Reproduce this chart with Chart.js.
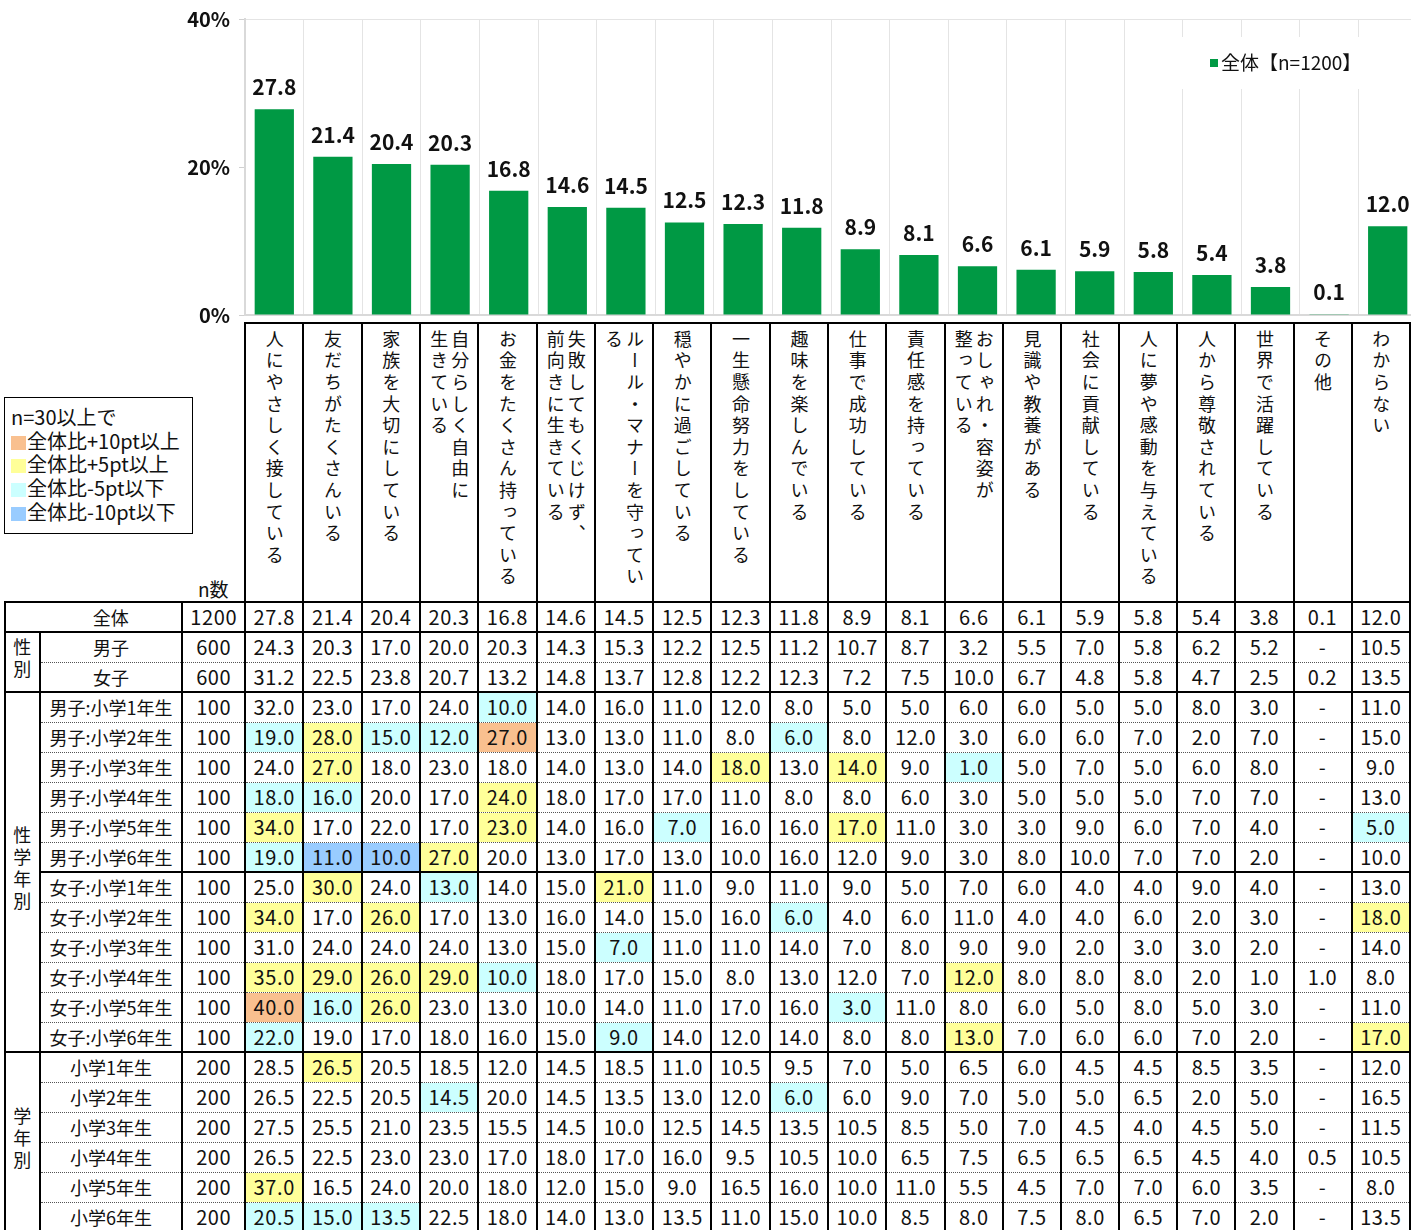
<!DOCTYPE html>
<html lang="ja">
<head>
<meta charset="utf-8">
<title>理想の大人像</title>
<script src="https://cdn.jsdelivr.net/npm/chart.js@4.4.1/dist/chart.umd.min.js"></script>
<style>
  html, body { margin: 0; padding: 0; background: #fff; overflow: hidden; }
  body { width: 1411px; height: 1230px; position: relative; font-family: "Noto Sans CJK JP", "Noto Sans", sans-serif; color: #111; }
  #chartBox { position: absolute; left: 0; top: 0; width: 1420px; height: 330px; z-index: 2; pointer-events: none; }
  #sheet { position: absolute; left: 4px; top: 322px; border-collapse: collapse; table-layout: fixed; z-index: 1; }
  #sheet td { padding: 0; white-space: nowrap; overflow: hidden; text-align: center; }
  #sheet tr.head { height: 279px; }
  #sheet tr.row { height: 30px; }
  #sheet td.blank { border: none; }
  #sheet td.nhead { vertical-align: bottom; font-size: 19px; line-height: 24px; }
  #sheet td.hd { border: 2px solid #000; vertical-align: top; padding-top: 6px; }
  .vt { display: inline-block; writing-mode: vertical-rl; text-align: left; white-space: pre; font-size: 18px; letter-spacing: 3.6px; line-height: 21px; }
  #sheet td.grp { border: 2px solid #000; vertical-align: middle; }
  .vg { display: inline-block; writing-mode: vertical-rl; font-size: 18px; letter-spacing: 4px; line-height: 20px; }
  #sheet td.lab { font-size: 18px; line-height: 28px; border-left: 2px solid #000; border-right: 2px solid #000; }
  #sheet td.num { font-size: 20px; line-height: 28px; letter-spacing: 0.6px; border-left: 2px solid #000; border-right: 2px solid #000; }
  #sheet tr.solid td { border-top: 2px solid #000; }
  #sheet tr.dot td { border-top: 1px dotted #555; }
  #key { position: absolute; left: 4px; top: 397px; width: 189px; height: 137px; box-sizing: border-box; border: 1.5px solid #000; padding: 7px 0 0 6px; font-size: 20px; line-height: 23.7px; background: #fff; z-index: 3; white-space: nowrap; }
  #key i { display: inline-block; width: 15px; height: 14px; margin-right: 1px; vertical-align: -1px; }
</style>
</head>
<body>
<div id="chartBox"><canvas id="bars" width="1420" height="330"></canvas></div>
<table id="sheet"></table>
<div id="key"></div>

<script>
// categories (header text, line breaks as in the original)
const categories = [
  '人にやさしく接している', '友だちがたくさんいる', '家族を大切にしている', '自分らしく自由に\n生きている',
  'お金をたくさん持っている', '失敗してもくじけず、\n前向きに生きている', 'ルール・マナーを守ってい\nる',
  '穏やかに過ごしている', '一生懸命努力をしている', '趣味を楽しんでいる', '仕事で成功している',
  '責任感を持っている', 'おしゃれ・容姿が\n整っている', '見識や教養がある', '社会に貢献している',
  '人に夢や感動を与えている', '人から尊敬されている', '世界で活躍している', 'その他', 'わからない'
];

// 全体 (bars)
const overall = [27.8, 21.4, 20.4, 20.3, 16.8, 14.6, 14.5, 12.5, 12.3, 11.8, 8.9, 8.1, 6.6, 6.1, 5.9, 5.8, 5.4, 3.8, 0.1, 12.0];
const yTicks = [0, 20, 40];

// table rows (null = '-')
const boys   = [24.3, 20.3, 17.0, 20.0, 20.3, 14.3, 15.3, 12.2, 12.5, 11.2, 10.7, 8.7, 3.2, 5.5, 7.0, 5.8, 6.2, 5.2, null, 10.5];
const girls  = [31.2, 22.5, 23.8, 20.7, 13.2, 14.8, 13.7, 12.8, 12.2, 12.3, 7.2, 7.5, 10.0, 6.7, 4.8, 5.8, 4.7, 2.5, 0.2, 13.5];
const boysG1 = [32.0, 23.0, 17.0, 24.0, 10.0, 14.0, 16.0, 11.0, 12.0, 8.0, 5.0, 5.0, 6.0, 6.0, 5.0, 5.0, 8.0, 3.0, null, 11.0];
const boysG2 = [19.0, 28.0, 15.0, 12.0, 27.0, 13.0, 13.0, 11.0, 8.0, 6.0, 8.0, 12.0, 3.0, 6.0, 6.0, 7.0, 2.0, 7.0, null, 15.0];
const boysG3 = [24.0, 27.0, 18.0, 23.0, 18.0, 14.0, 13.0, 14.0, 18.0, 13.0, 14.0, 9.0, 1.0, 5.0, 7.0, 5.0, 6.0, 8.0, null, 9.0];
const boysG4 = [18.0, 16.0, 20.0, 17.0, 24.0, 18.0, 17.0, 17.0, 11.0, 8.0, 8.0, 6.0, 3.0, 5.0, 5.0, 5.0, 7.0, 7.0, null, 13.0];
const boysG5 = [34.0, 17.0, 22.0, 17.0, 23.0, 14.0, 16.0, 7.0, 16.0, 16.0, 17.0, 11.0, 3.0, 3.0, 9.0, 6.0, 7.0, 4.0, null, 5.0];
const boysG6 = [19.0, 11.0, 10.0, 27.0, 20.0, 13.0, 17.0, 13.0, 10.0, 16.0, 12.0, 9.0, 3.0, 8.0, 10.0, 7.0, 7.0, 2.0, null, 10.0];
const girlsG1 = [25.0, 30.0, 24.0, 13.0, 14.0, 15.0, 21.0, 11.0, 9.0, 11.0, 9.0, 5.0, 7.0, 6.0, 4.0, 4.0, 9.0, 4.0, null, 13.0];
const girlsG2 = [34.0, 17.0, 26.0, 17.0, 13.0, 16.0, 14.0, 15.0, 16.0, 6.0, 4.0, 6.0, 11.0, 4.0, 4.0, 6.0, 2.0, 3.0, null, 18.0];
const girlsG3 = [31.0, 24.0, 24.0, 24.0, 13.0, 15.0, 7.0, 11.0, 11.0, 14.0, 7.0, 8.0, 9.0, 9.0, 2.0, 3.0, 3.0, 2.0, null, 14.0];
const girlsG4 = [35.0, 29.0, 26.0, 29.0, 10.0, 18.0, 17.0, 15.0, 8.0, 13.0, 12.0, 7.0, 12.0, 8.0, 8.0, 8.0, 2.0, 1.0, 1.0, 8.0];
const girlsG5 = [40.0, 16.0, 26.0, 23.0, 13.0, 10.0, 14.0, 11.0, 17.0, 16.0, 3.0, 11.0, 8.0, 6.0, 5.0, 8.0, 5.0, 3.0, null, 11.0];
const girlsG6 = [22.0, 19.0, 17.0, 18.0, 16.0, 15.0, 9.0, 14.0, 12.0, 14.0, 8.0, 8.0, 13.0, 7.0, 6.0, 6.0, 7.0, 2.0, null, 17.0];
const grade1 = [28.5, 26.5, 20.5, 18.5, 12.0, 14.5, 18.5, 11.0, 10.5, 9.5, 7.0, 5.0, 6.5, 6.0, 4.5, 4.5, 8.5, 3.5, null, 12.0];
const grade2 = [26.5, 22.5, 20.5, 14.5, 20.0, 14.5, 13.5, 13.0, 12.0, 6.0, 6.0, 9.0, 7.0, 5.0, 5.0, 6.5, 2.0, 5.0, null, 16.5];
const grade3 = [27.5, 25.5, 21.0, 23.5, 15.5, 14.5, 10.0, 12.5, 14.5, 13.5, 10.5, 8.5, 5.0, 7.0, 4.5, 4.0, 4.5, 5.0, null, 11.5];
const grade4 = [26.5, 22.5, 23.0, 23.0, 17.0, 18.0, 17.0, 16.0, 9.5, 10.5, 10.0, 6.5, 7.5, 6.5, 6.5, 6.5, 4.5, 4.0, 0.5, 10.5];
const grade5 = [37.0, 16.5, 24.0, 20.0, 18.0, 12.0, 15.0, 9.0, 16.5, 16.0, 10.0, 11.0, 5.5, 4.5, 7.0, 7.0, 6.0, 3.5, null, 8.0];
const grade6 = [20.5, 15.0, 13.5, 22.5, 18.0, 14.0, 13.0, 13.5, 11.0, 15.0, 10.0, 8.5, 8.0, 7.5, 8.0, 6.5, 7.0, 2.0, null, 13.5];

const rowNames = ['全体', '男子', '女子',
  '男子:小学1年生', '男子:小学2年生', '男子:小学3年生', '男子:小学4年生', '男子:小学5年生', '男子:小学6年生',
  '女子:小学1年生', '女子:小学2年生', '女子:小学3年生', '女子:小学4年生', '女子:小学5年生', '女子:小学6年生',
  '小学1年生', '小学2年生', '小学3年生', '小学4年生', '小学5年生', '小学6年生'];
const rowN = [1200, 600, 600, 100, 100, 100, 100, 100, 100, 100, 100, 100, 100, 100, 100, 200, 200, 200, 200, 200, 200];
const rowValues = [overall, boys, girls, boysG1, boysG2, boysG3, boysG4, boysG5, boysG6,
  girlsG1, girlsG2, girlsG3, girlsG4, girlsG5, girlsG6, grade1, grade2, grade3, grade4, grade5, grade6];

// side groups: name, first row, row count
const groupNames = ['性別', '性学年別', '学年別'];
const groupStart = [1, 3, 15];
const groupSpan = [2, 12, 6];
const solidRows = [0, 1, 3, 9, 15];

// highlight key
const keyLabels = ['全体比+10pt以上', '全体比+5pt以上', '全体比-5pt以下', '全体比-10pt以下'];
const keyColors = ['#F9C08F', '#FFFF99', '#CCFFFF', '#99CCFF'];

function cellColor(v, base) {
  if (v === null) return '';
  const d = Math.round((v - base) * 10) / 10;
  if (d >= 10) return keyColors[0];
  if (d >= 5) return keyColors[1];
  if (d <= -10) return keyColors[3];
  if (d <= -5) return keyColors[2];
  return '';
}

function buildTable() {
  let html = '<colgroup><col style="width:35px"><col style="width:143px"><col style="width:63px">' +
    categories.map(() => '<col style="width:58.6px">').join('') + '</colgroup>';
  html += '<tr class="head"><td class="blank"></td><td class="blank"></td><td class="blank nhead">n数</td>' +
    categories.map(c => '<td class="hd"><div class="vt">' + c + '</div></td>').join('') + '</tr>';

  rowNames.forEach((name, r) => {
    const cls = solidRows.indexOf(r) >= 0 ? 'row solid' : 'row dot';
    let tr = '<tr class="' + cls + '">';
    if (r === 0) {
      tr += '<td class="lab" colspan="2" style="border-left:2px solid #000;padding-left:34px">' + name + '</td>';
    } else {
      const g = groupStart.indexOf(r);
      if (g >= 0) {
        tr += '<td class="grp" rowspan="' + groupSpan[g] + '"><div class="vg">' + groupNames[g] + '</div></td>';
      }
      tr += '<td class="lab">' + name + '</td>';
    }
    tr += '<td class="num">' + rowN[r] + '</td>';
    rowValues[r].forEach((v, i) => {
      const bg = r === 0 ? '' : cellColor(v, overall[i]);
      tr += '<td class="num"' + (bg ? ' style="background:' + bg + '"' : '') + '>' + (v === null ? '-' : v.toFixed(1)) + '</td>';
    });
    html += tr + '</tr>';
  });
  document.getElementById('sheet').innerHTML = html;

  document.getElementById('key').innerHTML = '<div>n=30以上で</div>' +
    keyLabels.map((t, i) => '<div><i style="background:' + keyColors[i] + '"></i>' + t + '</div>').join('');
}

// value labels above bars
const valueLabels = {
  id: 'valueLabels',
  afterDatasetsDraw(chart) {
    const ctx = chart.ctx;
    const meta = chart.getDatasetMeta(0);
    ctx.save();
    ctx.font = 'bold 21px "Noto Sans CJK JP"';
    ctx.fillStyle = '#111';
    ctx.textAlign = 'center';
    ctx.textBaseline = 'middle';
    meta.data.forEach((bar, i) => {
      ctx.fillText(overall[i].toFixed(1), bar.x, bar.y - 22);
    });
    ctx.restore();
  }
};

// legend with white backing over the grid
const boxedLegend = {
  id: 'boxedLegend',
  beforeDatasetsDraw(chart) {
    const ds = chart.data.datasets[0];
    const ctx = chart.ctx;
    const right = chart.chartArea.right - 58;
    ctx.save();
    ctx.fillStyle = '#fff';
    ctx.fillRect(right - 177, 37, 180, 52);
    ctx.fillStyle = ds.backgroundColor;
    ctx.fillRect(right - 149, 59, 8, 8);
    ctx.font = '19px "Noto Sans CJK JP"';
    ctx.fillStyle = '#111';
    ctx.textBaseline = 'middle';
    ctx.fillText(ds.label, right - 138, 63);
    ctx.restore();
  }
};

function drawChart() {
  new Chart(document.getElementById('bars'), {
    type: 'bar',
    data: {
      labels: categories,
      datasets: [{
        label: '全体【n=1200】',
        data: overall,
        backgroundColor: '#009944',
        barPercentage: 0.67,
        categoryPercentage: 1
      }]
    },
    options: {
      responsive: false,
      animation: false,
      layout: { padding: { top: 19, right: 3, bottom: 15, left: 0 } },
      plugins: { legend: { display: false }, tooltip: { enabled: false } },
      scales: {
        x: {
          grid: { color: '#e4e4e4', drawTicks: false, offset: true },
          border: { color: '#d9d9d9', width: 2 },
          ticks: { display: false },
          afterFit(scale) { scale.height = 0; }
        },
        y: {
          min: 0,
          max: 40,
          afterBuildTicks(scale) { scale.ticks = yTicks.map(v => ({ value: v })); },
          ticks: {
            callback: v => v + '%',
            color: '#111',
            padding: 9,
            font: { family: '"Noto Sans CJK JP"', size: 20, weight: 'bold' }
          },
          grid: {
            color: c => (c.tick && c.tick.value === 40) ? '#e4e4e4' : 'rgba(0,0,0,0)',
            tickColor: '#d0d0d0',
            tickLength: 6
          },
          border: { color: '#d9d9d9', width: 2 },
          afterFit(scale) {
            scale.width = 245;
            scale.paddingTop = 0;
            scale.paddingBottom = 0;
          }
        }
      }
    },
    plugins: [valueLabels, boxedLegend]
  });
}

buildTable();
Promise.all([
  document.fonts.load('20px "Noto Sans CJK JP"'),
  document.fonts.load('bold 20px "Noto Sans CJK JP"')
]).then(drawChart, drawChart);
</script>
</body>
</html>
